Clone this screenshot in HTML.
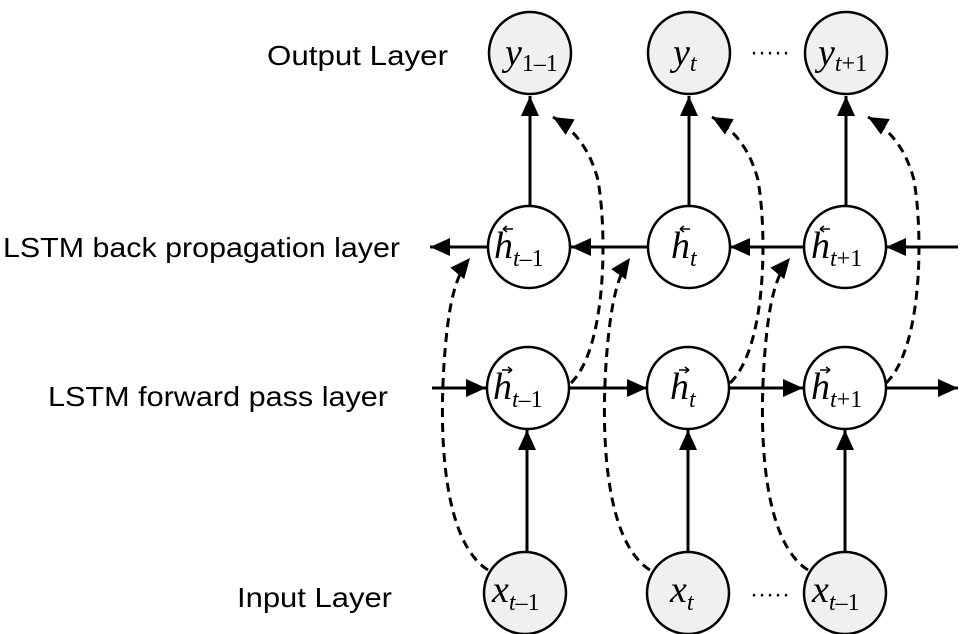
<!DOCTYPE html>
<html><head><meta charset="utf-8"><style>body{margin:0;background:#fff}svg{display:block}</style></head>
<body>
<svg width="960" height="634" viewBox="0 0 960 634" xmlns="http://www.w3.org/2000/svg">
<defs>
<marker id="b" markerWidth="20" markerHeight="18" refX="20" refY="9" orient="auto" markerUnits="userSpaceOnUse"><path d="M0,0 L20,9 L0,18 z" fill="#000"/></marker>
</defs>
<g font-family="Liberation Sans, sans-serif" font-size="28" fill="#000">
<text x="267" y="65" textLength="181" lengthAdjust="spacingAndGlyphs">Output Layer</text>
<text x="3" y="257" textLength="397" lengthAdjust="spacingAndGlyphs">LSTM back propagation layer</text>
<text x="48" y="406" textLength="340" lengthAdjust="spacingAndGlyphs">LSTM forward pass layer</text>
<text x="237" y="607" textLength="155" lengthAdjust="spacingAndGlyphs">Input Layer</text>
</g>
<g stroke="#000" stroke-width="3" fill="none">
<line x1="530" y1="206" x2="530" y2="96" marker-end="url(#b)"/>
<line x1="689" y1="206" x2="689" y2="96" marker-end="url(#b)"/>
<line x1="846" y1="206" x2="846" y2="96" marker-end="url(#b)"/>
<line x1="527" y1="552" x2="527" y2="430" marker-end="url(#b)"/>
<line x1="688" y1="552" x2="688" y2="430" marker-end="url(#b)"/>
<line x1="845" y1="552" x2="845" y2="430" marker-end="url(#b)"/>
<line x1="488" y1="247" x2="430" y2="247" marker-end="url(#b)"/>
<line x1="648" y1="247" x2="571" y2="247" marker-end="url(#b)"/>
<line x1="803" y1="247" x2="730" y2="247" marker-end="url(#b)"/>
<line x1="958" y1="247" x2="886" y2="247" marker-end="url(#b)"/>
<line x1="432" y1="388" x2="486" y2="388" marker-end="url(#b)"/>
<line x1="569" y1="388" x2="647" y2="388" marker-end="url(#b)"/>
<line x1="729" y1="388" x2="803" y2="388" marker-end="url(#b)"/>
<line x1="886" y1="388" x2="958" y2="388" marker-end="url(#b)"/>
</g>
<g stroke="#000" stroke-width="3" fill="none" stroke-dasharray="9,6">
<path d="M488,570 C440,540 438,420 446,340 C450,300 456,275 470,258" marker-end="url(#b)"/>
<path d="M650,570 C602,540 600,420 608,340 C612,300 618,275 630,258" marker-end="url(#b)"/>
<path d="M808,570 C760,540 758,420 766,340 C770,300 776,275 790,258" marker-end="url(#b)"/>
<path d="M571,383 C605,350 608,240 598,180 C590,150 575,130 553,117" marker-end="url(#b)"/>
<path d="M730,383 C765,350 768,240 758,180 C750,150 735,130 712,117" marker-end="url(#b)"/>
<path d="M886,383 C921,350 924,240 914,180 C906,150 891,130 868,117" marker-end="url(#b)"/>
</g>
<g stroke="#000" stroke-width="2.5">
<circle cx="530" cy="53" r="41" fill="#f0f0f0"/>
<circle cx="689" cy="53" r="41" fill="#f0f0f0"/>
<circle cx="846" cy="53" r="41" fill="#f0f0f0"/>
<circle cx="529" cy="247" r="41" fill="#fff"/>
<circle cx="689" cy="247" r="41" fill="#fff"/>
<circle cx="845" cy="247" r="41" fill="#fff"/>
<circle cx="528" cy="388" r="41" fill="#fff"/>
<circle cx="688" cy="388" r="41" fill="#fff"/>
<circle cx="845" cy="388" r="41" fill="#fff"/>
<circle cx="525" cy="593" r="41" fill="#f0f0f0"/>
<circle cx="688" cy="593" r="41" fill="#f0f0f0"/>
<circle cx="845" cy="593" r="41" fill="#f0f0f0"/>
</g>
<g font-family="Liberation Serif, serif" fill="#000">
<text x="505" y="65" font-size="38" font-style="italic">y<tspan font-size="24" font-style="normal" dy="6">1–1</tspan></text>
<text x="673" y="65" font-size="38" font-style="italic">y<tspan font-size="24" dy="6">t</tspan></text>
<text x="818" y="65" font-size="38" font-style="italic">y<tspan font-size="24" dy="6">t</tspan><tspan font-size="24" font-style="normal">+1</tspan></text>

<text x="494" y="258" font-size="38" font-style="italic">h<tspan font-size="24" dy="8">t</tspan><tspan font-size="24" font-style="normal">–1</tspan></text>
<text x="671" y="258" font-size="38" font-style="italic">h<tspan font-size="24" dy="8">t</tspan></text>
<text x="811" y="258" font-size="38" font-style="italic">h<tspan font-size="24" dy="8">t</tspan><tspan font-size="24" font-style="normal">+1</tspan></text>

<text x="493" y="399" font-size="38" font-style="italic">h<tspan font-size="24" dy="8">t</tspan><tspan font-size="24" font-style="normal">–1</tspan></text>
<text x="670" y="399" font-size="38" font-style="italic">h<tspan font-size="24" dy="8">t</tspan></text>
<text x="811" y="399" font-size="38" font-style="italic">h<tspan font-size="24" dy="8">t</tspan><tspan font-size="24" font-style="normal">+1</tspan></text>

<text x="492" y="602" font-size="38" font-style="italic">x<tspan font-size="24" dy="8">t</tspan><tspan font-size="24" font-style="normal">–1</tspan></text>
<text x="670" y="602" font-size="38" font-style="italic">x<tspan font-size="24" dy="8">t</tspan></text>
<text x="812" y="602" font-size="38" font-style="italic">x<tspan font-size="24" dy="8">t</tspan><tspan font-size="24" font-style="normal">–1</tspan></text>
</g>
<g stroke="#000" stroke-width="1.5" fill="none">
<line x1="503" y1="229" x2="513" y2="229"/><path d="M503,229 l4,-3 M503,229 l4,3"/>
<line x1="680" y1="229" x2="690" y2="229"/><path d="M680,229 l4,-3 M680,229 l4,3"/>
<line x1="820" y1="229" x2="830" y2="229"/><path d="M820,229 l4,-3 M820,229 l4,3"/>
<line x1="502" y1="370" x2="512" y2="370"/><path d="M512,370 l-4,-3 M512,370 l-4,3"/>
<line x1="679" y1="370" x2="689" y2="370"/><path d="M689,370 l-4,-3 M689,370 l-4,3"/>
<line x1="820" y1="370" x2="830" y2="370"/><path d="M830,370 l-4,-3 M830,370 l-4,3"/>
</g>
<g font-family="Liberation Sans, sans-serif" font-size="24" fill="#000">
<text x="750" y="60">·····</text>
<text x="750" y="602">·····</text>
</g>
</svg>
</body></html>
